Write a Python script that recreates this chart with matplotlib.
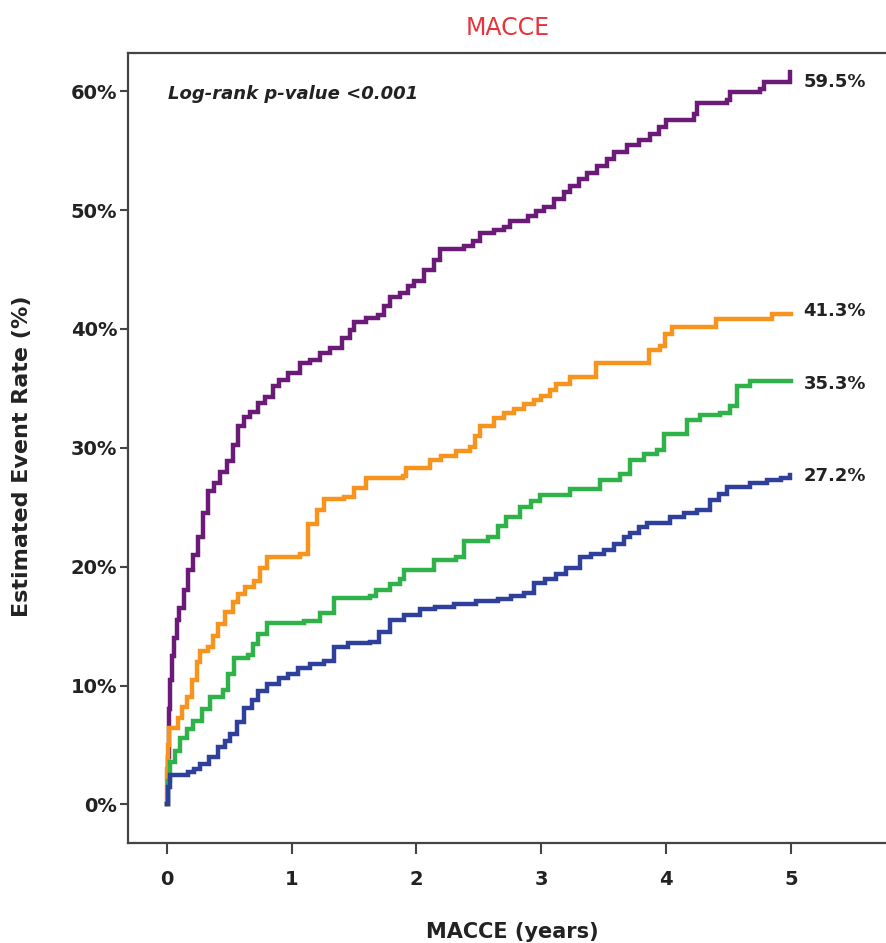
import matplotlib
matplotlib.use("Agg")
import matplotlib.pyplot as plt

# Kaplan-Meier style cumulative event rates (%)
purple_t = [0, 0.01, 0.02, 0.03, 0.04, 0.06, 0.08, 0.10, 0.14, 0.17, 0.21, 0.25, 0.29,
            0.33, 0.38, 0.43, 0.48, 0.53, 0.57, 0.62, 0.67, 0.73, 0.79, 0.85, 0.90,
            0.97, 1.07, 1.15, 1.23, 1.31, 1.40, 1.47, 1.50, 1.60, 1.69, 1.74, 1.79,
            1.87, 1.93, 1.98, 2.06, 2.14, 2.19, 2.38, 2.45, 2.51, 2.62, 2.70, 2.75,
            2.89, 2.96, 3.02, 3.10, 3.18, 3.23, 3.30, 3.37, 3.45, 3.53, 3.58, 3.69,
            3.78, 3.87, 3.94, 4.00, 4.22, 4.25, 4.49, 4.51, 4.75, 4.78, 4.99]
purple_v = [0, 4.0, 8.0, 10.5, 12.5, 14.0, 15.5, 16.5, 18.0, 19.7, 21.0, 22.5, 24.5,
            26.4, 27.0, 28.0, 28.9, 30.2, 31.8, 32.6, 33.0, 33.8, 34.3, 35.2, 35.7,
            36.3, 37.1, 37.4, 38.0, 38.4, 39.2, 39.9, 40.6, 40.9, 41.2, 41.9, 42.7,
            43.0, 43.6, 44.0, 45.0, 45.8, 46.7, 47.0, 47.4, 48.1, 48.3, 48.6, 49.1,
            49.5, 49.9, 50.3, 50.9, 51.5, 52.0, 52.6, 53.1, 53.7, 54.3, 54.9, 55.5,
            55.9, 56.4, 57.0, 57.6, 58.1, 59.0, 59.3, 59.9, 60.2, 60.8, 61.6]

orange_t = [0, 0.005, 0.01, 0.02, 0.09, 0.12, 0.165, 0.20, 0.24, 0.27, 0.33, 0.37,
            0.41, 0.47, 0.53, 0.57, 0.63, 0.70, 0.75, 0.80, 1.07, 1.13, 1.20, 1.26,
            1.42, 1.50, 1.60, 1.89, 1.92, 2.11, 2.20, 2.32, 2.43, 2.47, 2.51, 2.62,
            2.70, 2.78, 2.86, 2.94, 3.00, 3.07, 3.12, 3.23, 3.44, 3.86, 3.95, 3.99,
            4.05, 4.40, 4.85, 5.00]
orange_v = [0, 3.0, 5.0, 6.4, 7.3, 8.2, 9.0, 10.5, 12.0, 12.9, 13.2, 14.2,
            15.2, 16.2, 17.0, 17.7, 18.3, 18.8, 19.9, 20.8, 21.1, 23.6, 24.8, 25.7,
            25.9, 26.6, 27.5, 27.6, 28.3, 29.0, 29.3, 29.7, 30.1, 31.0, 31.8, 32.5,
            32.9, 33.3, 33.7, 34.0, 34.4, 34.9, 35.4, 36.0, 37.1, 38.2, 38.6, 39.6,
            40.2, 40.8, 41.3, 41.3]

green_t = [0, 0.01, 0.03, 0.07, 0.11, 0.16, 0.21, 0.28, 0.35, 0.45, 0.49, 0.54,
           0.65, 0.69, 0.73, 0.80, 1.10, 1.23, 1.34, 1.63, 1.68, 1.79, 1.87, 1.90,
           2.14, 2.32, 2.38, 2.57, 2.65, 2.72, 2.83, 2.92, 2.99, 3.23, 3.47, 3.63,
           3.71, 3.82, 3.93, 3.98, 4.17, 4.27, 4.43, 4.51, 4.57, 4.67, 5.00]
green_v = [0, 2.0, 3.6, 4.5, 5.6, 6.3, 7.0, 8.0, 9.0, 9.6, 11.0, 12.3,
           12.6, 13.5, 14.3, 15.3, 15.4, 16.1, 17.4, 17.5, 18.0, 18.5, 19.0, 19.7,
           20.6, 20.8, 22.2, 22.5, 23.4, 24.2, 25.0, 25.5, 26.0, 26.5, 27.3, 27.8,
           29.0, 29.5, 29.8, 31.2, 32.3, 32.8, 32.9, 33.5, 35.2, 35.6, 35.6]

blue_t = [0, 0.01, 0.03, 0.17, 0.22, 0.27, 0.34, 0.41, 0.47, 0.51, 0.56, 0.62,
          0.68, 0.73, 0.80, 0.90, 0.97, 1.05, 1.15, 1.26, 1.34, 1.45, 1.63, 1.70,
          1.79, 1.90, 2.03, 2.15, 2.30, 2.48, 2.65, 2.76, 2.86, 2.94, 3.03, 3.12,
          3.20, 3.31, 3.40, 3.50, 3.58, 3.66, 3.71, 3.78, 3.85, 4.03, 4.14, 4.25,
          4.35, 4.42, 4.49, 4.67, 4.81, 4.92, 4.99]
blue_v = [0, 1.5, 2.5, 2.7, 3.0, 3.4, 4.0, 4.8, 5.3, 5.9, 6.9, 8.1,
          8.8, 9.5, 10.1, 10.6, 11.0, 11.5, 11.8, 12.1, 13.2, 13.6, 13.7, 14.5,
          15.5, 15.9, 16.4, 16.6, 16.9, 17.1, 17.3, 17.5, 17.8, 18.6, 19.0, 19.4,
          19.9, 20.8, 21.1, 21.4, 21.9, 22.5, 22.8, 23.3, 23.7, 24.2, 24.5, 24.8,
          25.6, 26.1, 26.7, 27.0, 27.3, 27.5, 27.7]

end_labels = ["59.5%", "41.3%", "35.3%", "27.2%"]
end_label_y = [60.8, 41.5, 35.4, 27.6]

x_ticks = [0, 1, 2, 3, 4, 5]
y_ticks = [0, 10, 20, 30, 40, 50, 60]

COLORS = ["#6b1a78", "#f7941d", "#2fb24a", "#2f3f9c"]
TEXT = "#222222"

fig = plt.figure(figsize=(8.87, 9.43), dpi=100)
ax = fig.add_axes([0.1446, 0.1057, 0.8654, 0.8378])

series = [(purple_t, purple_v), (orange_t, orange_v), (green_t, green_v), (blue_t, blue_v)]
for (t, v), c in zip(series, COLORS):
    ax.step(t, v, where="post", color=c, lw=3.2, solid_joinstyle="miter")

ax.set_xlim(-0.308, 5.84)
ax.set_ylim(-3.28, 63.2)
ax.set_xticks(x_ticks)
ax.set_xticklabels([str(x) for x in x_ticks])
ax.set_yticks(y_ticks)
ax.set_yticklabels([f"{y}%" for y in y_ticks])

for s in ax.spines.values():
    s.set_color("#444444")
    s.set_linewidth(1.6)
# the reference is cropped before the right border
ax.spines["right"].set_visible(False)

ax.tick_params(axis="y", length=6, width=1.5, color="#444444", pad=2,
               labelsize=14, labelcolor=TEXT)
ax.tick_params(axis="x", length=8, width=1.5, color="#444444", pad=11,
               labelsize=14, labelcolor=TEXT)
for lab in ax.get_xticklabels() + ax.get_yticklabels():
    lab.set_fontweight("bold")

ax.set_ylabel("Estimated Event Rate (%)", fontsize=16, fontweight="bold", color=TEXT)
ax.yaxis.set_label_coords(-0.125, 0.49)
ax.set_xlabel("MACCE (years)", fontsize=15, fontweight="bold", color=TEXT, labelpad=24)

for lab, y in zip(end_labels, end_label_y):
    ax.text(5.1, y, lab, ha="left", va="center", fontsize=13, fontweight="bold",
            color=TEXT)

ax.text(0.01, 59.8, "Log-rank p-value <0.001", ha="left", va="center", fontsize=13,
        fontweight="bold", style="italic", color=TEXT)

fig.text(508 / 887, 1 - 28 / 943, "MACCE", ha="center", va="center", fontsize=17,
         color="#e8323c")

fig.savefig("out.png", dpi=100)
